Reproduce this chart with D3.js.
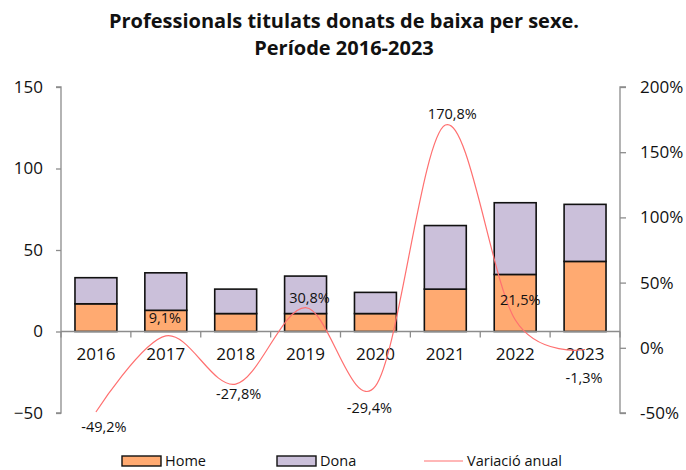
<!DOCTYPE html>
<html>
<head>
<meta charset="utf-8">
<script src="https://cdn.jsdelivr.net/npm/d3@7"></script>
<style>
  html, body { margin: 0; padding: 0; background: #fff; }
  svg { display: block; }
  text { font-family: "Open Sans", "Noto Sans", sans-serif; fill: #111; }
</style>
</head>
<body>
<svg id="chart" width="686" height="470"></svg>
<script>
// ---- data ----
const years = ["2016", "2017", "2018", "2019", "2020", "2021", "2022", "2023"];
const home = [17, 13, 11, 11, 11, 26, 35, 43];
const dona = [16, 23, 15, 23, 13, 39, 44, 35];
const variacio = [-0.492, 0.091, -0.278, 0.308, -0.294, 1.708, 0.215, -0.013];
const variacioLabels = ["-49,2%", "9,1%", "-27,8%", "30,8%", "-29,4%", "170,8%", "21,5%", "-1,3%"];
const leftTicks = [-50, 0, 50, 100, 150];
const rightTicks = [-0.5, 0, 0.5, 1, 1.5, 2];
const titleLines = ["Professionals titulats donats de baixa per sexe.", "Període 2016-2023"];
const seriesNames = ["Home", "Dona", "Variació anual"];

// ---- layout / style ----
const colors = { home: "#ffaa71", dona: "#cbc0da", line: "#ff7070", axis: "#8c8c8c" };
const plot = { left: 61, right: 620, top: 87, bottom: 413 };
// label offsets (dx, dy) relative to each line point, as placed in the original
const labelOffsets = [[8, 15], [-1, -18], [3, 10], [4, -10], [-6, 22], [7, -11], [5, -20], [-1, 28]];

const svg = d3.select("#chart");

const x = d3.scaleBand().domain(years).range([plot.left, plot.right]).paddingInner(0.4).paddingOuter(0.2);
const yL = d3.scaleLinear().domain([-50, 150]).range([plot.bottom, plot.top]);
const yR = d3.scaleLinear().domain([-0.5, 2]).range([plot.bottom, plot.top]);

// title
svg.append("g").selectAll("text").data(titleLines).join("text")
  .attr("x", 344).attr("y", (d, i) => 28 + i * 27)
  .attr("text-anchor", "middle")
  .style("font-weight", "700").style("font-size", "20px")
  .text(d => d);

// left axis
const axL = d3.axisLeft(yL).tickValues(leftTicks).tickSize(5).tickPadding(13).tickFormat(d3.format("d"));
const gL = svg.append("g").attr("transform", `translate(${plot.left},0)`).call(axL);
// right axis
const axR = d3.axisRight(yR).tickValues(rightTicks).tickSize(6).tickPadding(14)
  .tickFormat(d => Math.round(d * 100) + "%");
const gR = svg.append("g").attr("transform", `translate(${plot.right},0)`).call(axR);
[gL, gR].forEach(g => {
  g.select(".domain").attr("stroke", colors.axis).attr("stroke-width", 1.3);
  g.selectAll(".tick line").attr("stroke", colors.axis).attr("stroke-width", 1.3);
  g.selectAll(".tick text").style("font-size", "17px").attr("fill", "#111")
    .style("font-family", "'Open Sans', sans-serif");
});
gL.select(".domain").attr("d", `M-5,${plot.top}H0V${plot.bottom}H-5`);
gR.select(".domain").attr("d", `M6,${plot.top}H0V${plot.bottom}H6`);

// stacked bars
const stackData = years.map((y, i) => ({ year: y, Home: home[i], Dona: dona[i] }));
const stacked = d3.stack().keys(["Home", "Dona"])(stackData);
svg.append("g").selectAll("g").data(stacked).join("g")
  .attr("fill", d => d.key === "Home" ? colors.home : colors.dona)
  .selectAll("rect").data(d => d).join("rect")
  .attr("x", d => x(d.data.year))
  .attr("width", x.bandwidth())
  .attr("y", d => yL(d[1]))
  .attr("height", d => yL(d[0]) - yL(d[1]))
  .attr("stroke", "#111").attr("stroke-width", 1.6);

// category axis at 0
const y0 = yL(0);
const step = x.step();
const gX = svg.append("g");
gX.append("line").attr("x1", plot.left).attr("x2", plot.right).attr("y1", y0).attr("y2", y0)
  .attr("stroke", colors.axis).attr("stroke-width", 1.3);
gX.selectAll("line.tk").data(d3.range(years.length + 1)).join("line").attr("class", "tk")
  .attr("x1", i => plot.left + i * step).attr("x2", i => plot.left + i * step)
  .attr("y1", y0).attr("y2", y0 + 6)
  .attr("stroke", colors.axis).attr("stroke-width", 1.3);
gX.selectAll("text").data(years).join("text")
  .attr("x", d => x(d) + x.bandwidth() / 2).attr("y", y0 + 28)
  .attr("text-anchor", "middle").style("font-size", "17px")
  .text(d => d);

// line
const pts = years.map((y, i) => [x(y) + x.bandwidth() / 2, yR(variacio[i])]);
svg.append("path").datum(pts)
  .attr("d", d3.line().curve(d3.curveCardinal.tension(0)))
  .attr("fill", "none").attr("stroke", colors.line).attr("stroke-width", 1.2);

// line labels
svg.append("g").selectAll("text").data(variacioLabels).join("text")
  .attr("x", (d, i) => pts[i][0] + labelOffsets[i][0])
  .attr("y", (d, i) => pts[i][1] + labelOffsets[i][1])
  .attr("dy", "0.35em")
  .attr("text-anchor", "middle").style("font-size", "14.5px")
  .text(d => d);

// legend
const lg = svg.append("g");
const legendItems = [
  { name: seriesNames[0], type: "rect", fill: colors.home, x: 122 },
  { name: seriesNames[1], type: "rect", fill: colors.dona, x: 277 },
  { name: seriesNames[2], type: "line", fill: colors.line, x: 424 }
];
const ly = 461;
legendItems.forEach(it => {
  if (it.type === "rect") {
    lg.append("rect").attr("x", it.x).attr("y", ly - 5).attr("width", 39).attr("height", 10)
      .attr("fill", it.fill).attr("stroke", "#111").attr("stroke-width", 1.4);
  } else {
    lg.append("line").attr("x1", it.x).attr("x2", it.x + 39).attr("y1", ly).attr("y2", ly)
      .attr("stroke", it.fill).attr("stroke-width", 1.2);
  }
  lg.append("text").attr("x", it.x + 43).attr("y", ly).attr("dy", "0.35em")
    .style("font-size", "14.5px").text(it.name);
});
</script>
</body>
</html>
